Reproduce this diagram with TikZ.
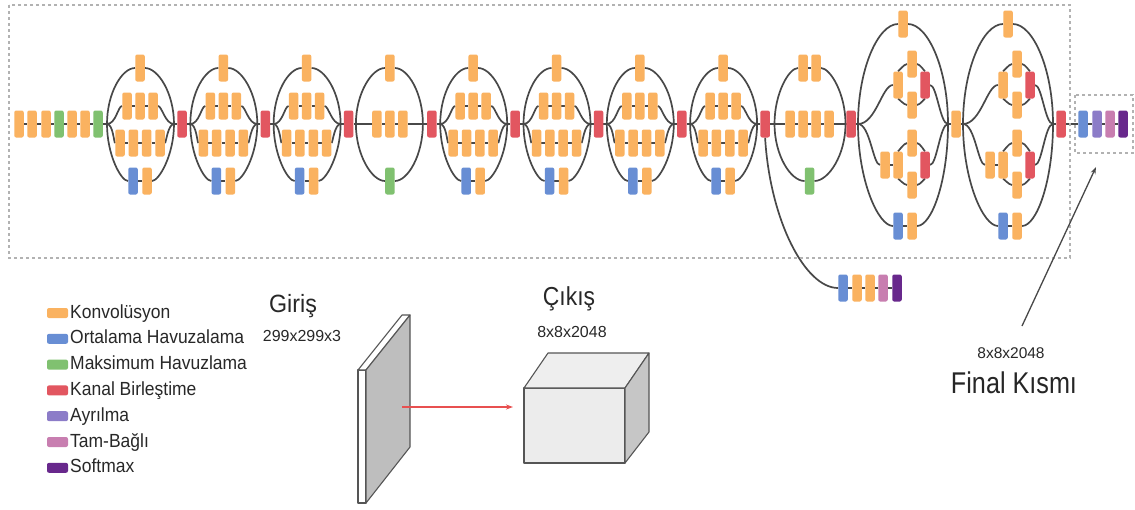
\documentclass[tikz,border=0pt]{standalone}
\usepackage{fontspec}
\setmainfont{Liberation Sans}
\usepackage{graphicx}
\usetikzlibrary{arrows.meta}

\definecolor{conv}{RGB}{250,178,96}
\definecolor{avgp}{RGB}{104,142,212}
\definecolor{maxp}{RGB}{128,193,112}
\definecolor{concat}{RGB}{226,86,96}
\definecolor{drop}{RGB}{140,124,200}
\definecolor{fc}{RGB}{200,126,176}
\definecolor{smax}{RGB}{104,40,140}
\definecolor{wirec}{RGB}{72,72,72}
\definecolor{framec}{RGB}{178,178,178}
\definecolor{ink}{RGB}{40,40,40}
\definecolor{edgec}{RGB}{85,85,85}
\definecolor{arrowred}{RGB}{232,80,80}

\pgfdeclarelayer{bg}
\pgfsetlayers{bg,main}

\tikzset{
  blk/.style={rectangle, rounded corners=2pt, minimum width=9.5pt,
    minimum height=27pt, inner sep=0pt, draw=none, fill=#1},
  wire/.style={draw=wirec, line width=1.7pt},
  frm/.style={draw=framec, line width=1.6pt, dash pattern=on 3pt off 3pt},
  sw/.style={rectangle, rounded corners=2pt, minimum width=21pt,
    minimum height=10pt, inner sep=0pt, fill=#1},
  lg/.style={anchor=base west, inner sep=0pt, text=ink,
    font=\fontsize{19}{19}\selectfont},
  txt/.style={anchor=base, inner sep=0pt, text=ink},
  solid3d/.style={draw=edgec, line width=1.1pt, line join=round},
}

% horizontally condensed text
\newcommand{\hsq}[2]{\scalebox{#1}[1]{#2}}

% 35x35 / 17x17 inception module: name, centre x
\newcommand{\modA}[2]{%
  \coordinate (#1L) at (#2-33,124);
  \coordinate (#1R) at (#2+34,124);
  \node[blk=conv] (#1t) at (#2,68) {};
  \node[blk=conv] (#1a1) at (#2-13,106) {};
  \node[blk=conv] (#1a2) at (#2,106) {};
  \node[blk=conv] (#1a3) at (#2+13,106) {};
  \node[blk=conv] (#1b1) at (#2-20,143) {};
  \node[blk=conv] (#1b2) at (#2-6.7,143) {};
  \node[blk=conv] (#1b3) at (#2+6.7,143) {};
  \node[blk=conv] (#1b4) at (#2+20,143) {};
  \node[blk=avgp] (#1p1) at (#2-7,181) {};
  \node[blk=conv] (#1p2) at (#2+7,181) {};
  \node[blk=concat] (#1c) at (#2+42,124) {};
  \begin{pgfonlayer}{bg}
    \draw[wire] (#1L) .. controls +(0,-31) and +(-18,0) .. (#1t);
    \draw[wire] (#1t) .. controls +(18,0) and +(0,-31) .. (#1R);
    \draw[wire] (#1L) .. controls +(9,0) and +(-9,0) .. (#1a1);
    \draw[wire] (#1a1) -- (#1a2) -- (#1a3);
    \draw[wire] (#1a3) .. controls +(9,0) and +(-9,0) .. (#1R);
    \draw[wire] (#1L) .. controls +(6,0) and +(-6,0) .. (#1b1);
    \draw[wire] (#1b1) -- (#1b2) -- (#1b3) -- (#1b4);
    \draw[wire] (#1b4) .. controls +(6,0) and +(-6,0) .. (#1R);
    \draw[wire] (#1L) .. controls +(0,31) and +(-12,0) .. (#1p1);
    \draw[wire] (#1p1) -- (#1p2);
    \draw[wire] (#1p2) .. controls +(12,0) and +(0,31) .. (#1R);
    \draw[wire] (#1R) -- (#1c);
  \end{pgfonlayer}}

% grid reduction module: name, centre x
\newcommand{\modB}[2]{%
  \coordinate (#1L) at (#2-34,124);
  \coordinate (#1R) at (#2+33,124);
  \node[blk=conv] (#1t) at (#2,68) {};
  \node[blk=conv] (#1a1) at (#2-13,124) {};
  \node[blk=conv] (#1a2) at (#2,124) {};
  \node[blk=conv] (#1a3) at (#2+13,124) {};
  \node[blk=maxp] (#1g) at (#2,181) {};
  \node[blk=concat] (#1c) at (#2+42,124) {};
  \begin{pgfonlayer}{bg}
    \draw[wire] (#1L) .. controls +(0,-31) and +(-18,0) .. (#1t);
    \draw[wire] (#1t) .. controls +(18,0) and +(0,-31) .. (#1R);
    \draw[wire] (#1L) -- (#1a1) -- (#1a2) -- (#1a3) -- (#1R);
    \draw[wire] (#1L) .. controls +(0,31) and +(-18,0) .. (#1g);
    \draw[wire] (#1g) .. controls +(18,0) and +(0,31) .. (#1R);
    \draw[wire] (#1R) -- (#1c);
  \end{pgfonlayer}}

% 8x8 inception module with split branches: name, centre x
\newcommand{\modC}[2]{%
  \coordinate (#1L) at (#2-45,124);
  \coordinate (#1R) at (#2+45,124);
  \node[blk=conv] (#1t) at (#2,24) {};
  \node[blk=conv] (#1u1) at (#2-5,85) {};
  \node[blk=conv] (#1ut) at (#2+9,64) {};
  \node[blk=conv] (#1ub) at (#2+9,105) {};
  \node[blk=concat] (#1uc) at (#2+22,85) {};
  \node[blk=conv] (#1l1) at (#2-18,165) {};
  \node[blk=conv] (#1l2) at (#2-5,165) {};
  \node[blk=conv] (#1lt) at (#2+9,143) {};
  \node[blk=conv] (#1lb) at (#2+9,185) {};
  \node[blk=concat] (#1lc) at (#2+22,165) {};
  \node[blk=avgp] (#1p1) at (#2-5,226) {};
  \node[blk=conv] (#1p2) at (#2+9,226) {};
  \begin{pgfonlayer}{bg}
    \draw[wire] (#1L) .. controls +(0,-55) and +(-25,0) .. (#1t);
    \draw[wire] (#1t) .. controls +(25,0) and +(0,-55) .. (#1R);
    \draw[wire] (#1L) .. controls +(0,56) and +(-20,0) .. (#1p1);
    \draw[wire] (#1p1) -- (#1p2);
    \draw[wire] (#1p2) .. controls +(20,0) and +(0,56) .. (#1R);
    % upper split branch
    \draw[wire] (#1L) .. controls +(18,0) and +(-16,0) .. (#1u1);
    \draw[wire] (#1u1) .. controls +(0,-13) and +(-8,0) .. (#1ut);
    \draw[wire] (#1ut) .. controls +(8,0) and +(0,-13) .. (#1uc);
    \draw[wire] (#1u1) .. controls +(0,13) and +(-8,0) .. (#1ub);
    \draw[wire] (#1ub) .. controls +(8,0) and +(0,13) .. (#1uc);
    \draw[wire] (#1uc) .. controls +(12,0) and +(-8,0) .. (#1R);
    % lower split branch
    \draw[wire] (#1L) .. controls +(12,0) and +(-12,0) .. (#1l1);
    \draw[wire] (#1l1) -- (#1l2);
    \draw[wire] (#1l2) .. controls +(0,-13) and +(-8,0) .. (#1lt);
    \draw[wire] (#1lt) .. controls +(8,0) and +(0,-13) .. (#1lc);
    \draw[wire] (#1l2) .. controls +(0,13) and +(-8,0) .. (#1lb);
    \draw[wire] (#1lb) .. controls +(8,0) and +(0,13) .. (#1lc);
    \draw[wire] (#1lc) .. controls +(12,0) and +(-8,0) .. (#1R);
  \end{pgfonlayer}}

\begin{document}
\begin{tikzpicture}[x=1pt, y=-1pt]
\useasboundingbox (0,0) rectangle (1135,509);
\begin{pgfonlayer}{bg}
  \fill[white] (0,0) rectangle (1135,509);
\end{pgfonlayer}

% frames
\draw[frm] (9,5) rectangle (1070,258);
\draw[frm] (1075,95) rectangle (1133,153);

% stem
\foreach \i/\x/\c in {1/19/conv,2/32/conv,3/46/conv,4/59/maxp,5/72/conv,6/85/conv,7/98/maxp}
  \node[blk=\c] (s\i) at (\x,124) {};

% inception modules
\modA{m0}{140}
\modA{m1}{223.3}
\modA{m2}{306.6}
\modB{m3}{389.9}
\modA{m4}{473.2}
\modA{m5}{556.5}
\modA{m6}{639.8}
\modA{m7}{723.1}

% second grid reduction
\coordinate (m8L) at (774.5,124);
\coordinate (m8R) at (845.5,124);
\node[blk=conv] (m8t1) at (803,68) {};
\node[blk=conv] (m8t2) at (816,68) {};
\node[blk=conv] (m8a1) at (790,124) {};
\node[blk=conv] (m8a2) at (803,124) {};
\node[blk=conv] (m8a3) at (816,124) {};
\node[blk=conv] (m8a4) at (829,124) {};
\node[blk=maxp] (m8g) at (809.5,181) {};
\node[blk=concat] (m8c) at (851,124) {};

\modC{m9}{903}
\node[blk=conv] (mid) at (956,124) {};
\modC{m10}{1008}
\node[blk=concat] (m10c) at (1061,124) {};

% final head
\node[blk=avgp] (f1) at (1083,124) {};
\node[blk=drop] (f2) at (1097,124) {};
\node[blk=fc] (f3) at (1110,124) {};
\node[blk=smax] (f4) at (1123,124) {};

% auxiliary head
\node[blk=avgp] (x1) at (843,288) {};
\node[blk=conv] (x2) at (857,288) {};
\node[blk=conv] (x3) at (870,288) {};
\node[blk=fc] (x4) at (883,288) {};
\node[blk=smax] (x5) at (897,288) {};

\begin{pgfonlayer}{bg}
  \draw[wire] (s1) -- (s2) -- (s3) -- (s4) -- (s5) -- (s6) -- (s7) -- (m0L);
  \draw[wire] (m0c) -- (m1L);
  \draw[wire] (m1c) -- (m2L);
  \draw[wire] (m2c) -- (m3L);
  \draw[wire] (m3c) -- (m4L);
  \draw[wire] (m4c) -- (m5L);
  \draw[wire] (m5c) -- (m6L);
  \draw[wire] (m6c) -- (m7L);
  \draw[wire] (m7c) -- (m8L);
  \draw[wire] (m8L) .. controls +(0,-31) and +(-14,0) .. (m8t1);
  \draw[wire] (m8t1) -- (m8t2);
  \draw[wire] (m8t2) .. controls +(14,0) and +(0,-31) .. (m8R);
  \draw[wire] (m8L) -- (m8a1) -- (m8a2) -- (m8a3) -- (m8a4) -- (m8R);
  \draw[wire] (m8L) .. controls +(0,31) and +(-19,0) .. (m8g);
  \draw[wire] (m8g) .. controls +(19,0) and +(0,31) .. (m8R);
  \draw[wire] (m8R) -- (m8c) -- (m9L);
  \draw[wire] (m9R) -- (mid) -- (m10L);
  \draw[wire] (m10R) -- (m10c) -- (f1) -- (f2) -- (f3) -- (f4);
  \draw[wire] (m7c.south) .. controls (770,220) and (805,288) .. (x1);
  \draw[wire] (x1) -- (x2) -- (x3) -- (x4) -- (x5);
\end{pgfonlayer}

% legend
\foreach \i/\c/\t in {0/conv/Konvolüsyon,1/avgp/Ortalama Havuzalama,
    2/maxp/Maksimum Havuzlama,3/concat/Kanal Birleştime,4/drop/Ayrılma,
    5/fc/Tam-Bağlı,6/smax/Softmax}{
  \node[sw=\c] (sw\i) at (57.5,313+25.8*\i) {};
  \node[lg] (lt\i) at (70,318+25.8*\i) {\hsq{0.92}{\t}};
}

% input slab
\coordinate (inA) at (358,370);
\coordinate (inB) at (366,370);
\coordinate (inC) at (410,315);
\coordinate (inD) at (402,315);
\coordinate (inE) at (410,447);
\coordinate (inF) at (366,503);
\coordinate (inG) at (358,503);
\filldraw[solid3d, fill=white] (inA) -- (inB) -- (inF) -- (inG) -- cycle;
\filldraw[solid3d, fill=white] (inA) -- (inD) -- (inC) -- (inB) -- cycle;
\filldraw[solid3d, fill={rgb,255:red,190;green,190;blue,190}] (inB) -- (inC) -- (inE) -- (inF) -- cycle;

% output block
\coordinate (cA) at (524,388);
\coordinate (cB) at (625,388);
\coordinate (cC) at (625,463);
\coordinate (cD) at (524,463);
\coordinate (cE) at (548,353);
\coordinate (cF) at (649,353);
\coordinate (cG) at (649,432);
\filldraw[solid3d, fill={rgb,255:red,236;green,236;blue,236}] (cA) -- (cB) -- (cC) -- (cD) -- cycle;
\filldraw[solid3d, fill={rgb,255:red,238;green,238;blue,238}] (cA) -- (cE) -- (cF) -- (cB) -- cycle;
\filldraw[solid3d, fill={rgb,255:red,198;green,198;blue,198}] (cB) -- (cF) -- (cG) -- (cC) -- cycle;

\coordinate (flowS) at (402,407);
\coordinate (flowE) at (513,407);
\draw[draw=arrowred, line width=1.2pt, -{Stealth[length=7pt,width=5pt]}] (flowS) -- (flowE);

% captions
\node[txt, font=\fontsize{25}{25}\selectfont] (giris) at (293,312) {\hsq{0.93}{Giriş}};
\node[txt, font=\fontsize{16}{16}\selectfont] (girisdim) at (302,341) {299x299x3};
\node[txt, font=\fontsize{26}{26}\selectfont] (cikis) at (569,305) {\hsq{0.88}{Çıkış}};
\node[txt, font=\fontsize{16}{16}\selectfont] (cikisdim) at (572,337) {8x8x2048};
\node[txt, font=\fontsize{15.5}{15.5}\selectfont] (finaldim) at (1011,358) {8x8x2048};
\node[txt, text=black!85, font=\fontsize{30}{30}\selectfont] (final) at (1014,393) {\hsq{0.84}{Final Kısmı}};

\coordinate (finS) at (1022,326);
\coordinate (finE) at (1096,167);
\draw[wirec, line width=1.3pt, -{Stealth[length=7pt,width=5pt]}] (finS) -- (finE);
\end{tikzpicture}
\end{document}
